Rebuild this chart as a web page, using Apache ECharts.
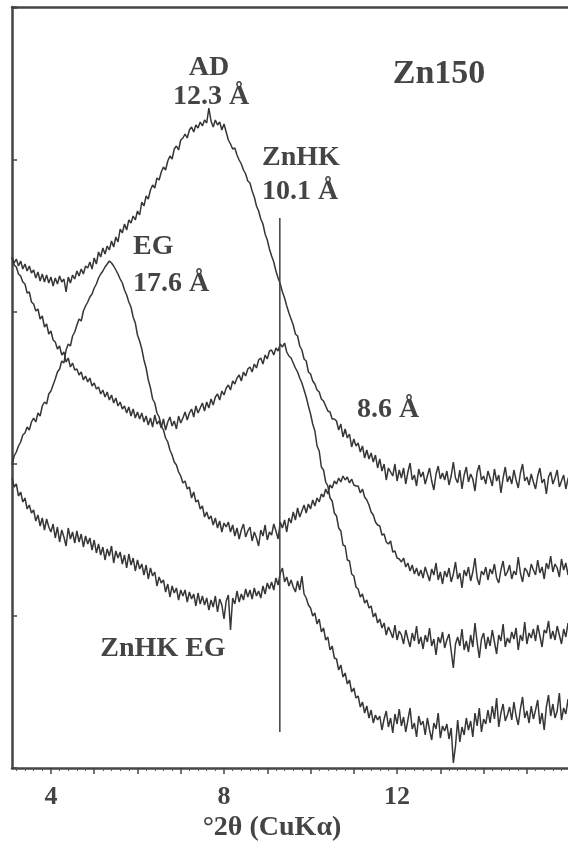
<!DOCTYPE html>
<html><head><meta charset="utf-8">
<script src="https://cdn.jsdelivr.net/npm/echarts@6/dist/echarts.min.js"></script>
<style>html,body{margin:0;padding:0;background:#fff}#c{width:568px;height:849px}</style>
</head><body><div id="c"></div>
<script>
// 2θ sampling of the patterns (degrees)
const twoThetaStart = 3.1, twoThetaStep = 0.05;

// Zn150 air-dried (AD)
const adCounts = [
511,505,509,502,507,499,504,497,502,495,
498,490,496,487,494,486,493,485,491,482,
490,484,492,486,489,476,491,485,493,489,
497,492,499,494,502,500,506,499,510,504,
516,511,520,514,522,518,527,521,531,526,
539,535,544,538,548,545,552,548,557,553,
566,562,572,569,578,583,580,590,588,596,
601,598,607,612,609,619,622,618,628,630,
634,630,638,641,636,643,640,646,642,648,
645,660,647,641,648,643,646,638,644,636,
628,624,619,620,613,608,604,598,594,587,
585,577,571,562,557,549,544,534,528,519,
512,506,497,490,484,476,470,462,455,449,
443,434,432,422,418,409,407,396,394,387,
384,378,376,369,367,362,357,356,349,349,
347,338,344,331,339,330,334,321,329,322,
325,316,322,310,318,309,315,306,313,300,
309,297,304,288,300,296,292,304,287,298,
290,300,284,296,305,288,293,282,299,291,
296,284,292,300,287,278,294,302,289,295,
288,297,283,292,306,290,285,298,279,293,
301,286,294,289,277,296,303,288,292,284,
297,290,282,299,287,293,275,290,301,286,
292,284,298,288,280,295,304,287,291,283,
294,286,279,292,300,285,289,274,291,296,
284,290,298,281,287,293,279,289,295,283,
288,285];

// Zn150 ethylene glycol (EG)
const egCounts = [
303,312,316,322,326,333,335,341,338,346,
350,346,355,352,362,366,364,374,377,383,
389,396,399,407,405,418,424,422,432,436,
443,449,447,457,462,466,471,474,480,484,
490,494,497,501,504,507,505,502,498,494,
489,485,478,473,466,461,451,445,433,427,
419,408,400,388,380,369,365,355,351,342,
338,330,326,318,313,306,303,296,292,285,
287,279,281,270,276,266,268,259,262,251,
256,249,252,243,250,240,247,236,245,241,
246,236,243,232,240,229,238,244,231,237,
241,227,236,230,222,238,232,243,228,236,
233,244,237,229,246,240,248,236,250,245,
256,248,260,251,257,263,255,264,259,268,
262,270,266,274,271,279,274,283,280,287,
284,290,286,292,288,291,285,289,283,282,
282,275,279,271,268,263,256,253,246,243,
242,233,234,226,224,227,216,217,210,209,
206,210,201,205,197,203,194,200,192,198,
190,201,194,187,199,193,205,188,196,184,
197,191,200,186,194,206,189,195,180,198,
192,201,187,196,210,190,183,197,193,201,
188,199,194,204,190,185,198,207,192,196,
203,189,197,193,211,195,186,200,197,191,
204,198,193,208,195,201,189,205,199,212,
196,204,200,191,209,198,205,193,211,203,
207,200];

// ZnHK (10.1 Å)
const znhkCounts = [
510,503,501,494,492,486,484,475,476,466,
464,457,459,449,452,441,444,434,437,428,
426,419,422,413,416,406,410,401,405,398,
399,393,396,388,392,386,390,382,385,379,
381,374,378,371,376,368,373,365,370,362,
366,359,362,355,361,352,359,350,356,349,
355,346,352,343,350,341,353,344,347,340,
349,338,346,351,342,347,339,352,345,350,
356,348,355,359,351,362,355,360,365,357,
366,360,369,363,371,374,368,377,373,380,
383,378,387,384,390,393,387,396,392,399,
401,396,404,400,408,410,404,413,409,417,
418,413,420,417,424,421,425,416,412,410,
405,400,396,390,385,378,371,362,354,344,
337,322,317,301,298,286,282,270,267,255,
252,240,237,223,222,208,207,194,192,181,
179,171,174,165,168,160,162,151,155,145,
149,140,145,133,141,136,130,143,128,137,
133,124,138,129,121,135,127,142,124,131,
119,133,126,140,122,129,113,131,125,136,
120,128,134,117,100,124,131,122,139,118,
127,116,133,121,145,126,110,129,135,119,
131,122,138,126,114,133,127,144,121,130,
125,136,129,140,118,133,127,146,124,135,
130,139,127,143,132,121,138,135,147,129,
137,128,142,133,124,139,131,145,129,136,
132,140];

// ZnHK EG
const znhkEgCounts = [
290,281,284,272,276,266,270,259,263,255,
258,247,253,242,250,238,249,241,236,244,
230,241,226,238,231,222,240,229,236,225,
237,226,234,221,232,224,230,218,228,215,
224,213,221,208,219,212,222,205,217,210,
216,204,213,200,214,203,210,197,208,199,
204,193,203,189,200,192,196,182,191,185,
188,176,184,171,182,175,180,168,178,172,
178,166,176,169,174,162,175,164,172,163,
170,158,168,161,172,156,169,163,149,167,
173,138,170,164,177,166,174,168,179,171,
178,169,180,172,177,170,182,174,185,179,
186,178,190,183,195,200,186,191,182,188,
181,176,187,178,192,174,170,163,160,152,
155,144,149,136,140,128,131,118,122,110,
109,98,103,91,95,84,88,76,80,70,
72,61,66,55,62,50,58,45,53,48,
52,38,49,57,41,50,35,54,44,59,
42,51,36,48,60,39,45,31,52,43,
47,33,50,38,28,45,39,55,30,42,
37,44,29,40,5,22,48,26,41,33,
50,38,47,31,55,42,60,36,49,44,
58,45,62,49,70,41,55,64,47,53,
61,48,66,52,43,59,71,50,57,45,
62,49,58,68,44,55,38,61,73,52,
64,50,57,75,48,60,54,69,46,63,
58,66];

// reference line at the ZnHK 10.1 Å reflection
const refLine = [[9.29, 36], [9.29, 550]];

const majorTicks = [4,5,6,7,8,9,10,11,12,13,14,15];
const tickLabels = [4, 8, 12];
const minorTicks = [];
for (let k = 16; k <= 79; k++) { if (k % 5 !== 0) minorTicks.push(+(k * 0.2).toFixed(1)); }

function toPairs(arr) { return arr.map((v, i) => [+(twoThetaStart + i * twoThetaStep).toFixed(2), v]); }

const ink = '#444444';
const serif = '"Liberation Serif", "DejaVu Serif", serif';
const lbl = (text, x, y, size, align) => ({
  type: 'text', z: 10,
  style: { text, x, y, font: 'bold ' + size + 'px ' + serif, fill: ink, align: align || 'center', verticalAlign: 'middle' }
});

const chart = echarts.init(document.getElementById('c'), null, { renderer: 'canvas' });
const lineSeries = (name, arr) => ({
  name, type: 'line', data: toPairs(arr), showSymbol: false, symbol: 'none',
  lineStyle: { color: '#363636', width: 1.5 }, animation: false, silent: true
});

const X_MIN = 3.1, X_MAX = 15.95;

chart.setOption({
  animation: false,
  backgroundColor: '#ffffff',
  grid: { left: 12, right: 0, top: 7, bottom: 81, containLabel: false },
  xAxis: [
    { type: 'value', position: 'bottom', min: X_MIN, max: X_MAX,
      axisLine: { show: true, onZero: false, lineStyle: { color: '#454545', width: 2.5 } },
      axisTick: { show: true, customValues: majorTicks, length: 6, inside: false, lineStyle: { color: '#454545', width: 1.5 } },
      axisLabel: { show: true, customValues: tickLabels, margin: 16, color: ink, fontSize: 26, fontWeight: 'bold', fontFamily: serif },
      splitLine: { show: false } },
    { type: 'value', position: 'bottom', min: X_MIN, max: X_MAX,
      axisLine: { show: false },
      axisTick: { show: true, customValues: minorTicks, length: 3, inside: false, lineStyle: { color: '#555555', width: 1 } },
      axisLabel: { show: false }, splitLine: { show: false } },
    { type: 'value', position: 'top', min: X_MIN, max: X_MAX,
      axisLine: { show: true, onZero: false, lineStyle: { color: '#454545', width: 2.5 } },
      axisTick: { show: false }, axisLabel: { show: false }, splitLine: { show: false } }
  ],
  yAxis: [{
    type: 'value', min: 0, max: 761, interval: 152,
    axisLine: { show: true, onZero: false, lineStyle: { color: '#454545', width: 2.5 } },
    axisTick: { show: true, inside: true, length: 5, lineStyle: { color: '#454545', width: 1.5 } },
    axisLabel: { show: false }, splitLine: { show: false }
  }],
  series: [
    lineSeries('AD', adCounts),
    lineSeries('EG', egCounts),
    lineSeries('ZnHK', znhkCounts),
    lineSeries('ZnHK EG', znhkEgCounts),
    { name: 'ref', type: 'line', data: refLine, showSymbol: false, symbol: 'none',
      lineStyle: { color: '#404040', width: 1.5 }, animation: false, silent: true }
  ],
  graphic: [
    lbl('AD', 209, 68, 28),
    lbl('12.3 Å', 211, 97, 28),
    lbl('Zn150', 439, 74, 34),
    lbl('ZnHK', 262, 158, 28, 'left'),
    lbl('10.1 Å', 262, 192, 28, 'left'),
    lbl('EG', 133, 247, 28, 'left'),
    lbl('17.6 Å', 133, 284, 28, 'left'),
    lbl('8.6 Å', 388, 410, 28),
    lbl('ZnHK EG', 163, 649, 28),
    lbl('°2θ (CuKα)', 272, 828, 28)
  ]
});
</script>
</body></html>
